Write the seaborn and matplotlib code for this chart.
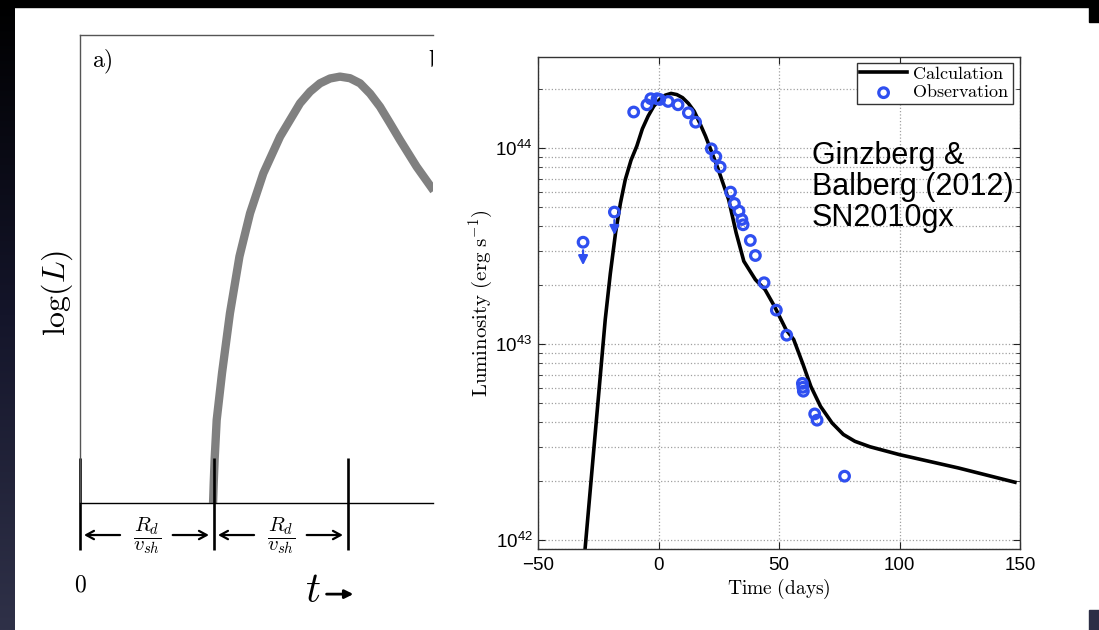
import numpy as np
import matplotlib
matplotlib.use("Agg")
import matplotlib.pyplot as plt
import seaborn as sns
from matplotlib.patches import Rectangle
from matplotlib.transforms import offset_copy
from matplotlib.ticker import LogLocator, FuncFormatter, NullFormatter, FixedLocator
from matplotlib.colors import LinearSegmentedColormap

# ---------------- data: right panel (SN2010gx, Ginzberg & Balberg 2012) ----------------
calc_days = [-31.0, -22.1, -20.0, -17.8, -15.8, -13.8, -11.4, -9.0, -6.7, -4.3, -2.0, 0.5,
             2.8, 5.2, 7.6, 10.0, 12.4, 14.8, 17.1, 19.5, 24.3,
             29.1, 32.2, 35.4, 40.2, 44.2, 48.1, 52.9, 56.1, 60.0, 63.2, 67.2, 72.0,
             76.7, 81.5, 87.8, 100.0, 124.4, 147.9]
calc_loglum = [41.88, 43.126, 43.36, 43.571, 43.72, 43.84, 43.94, 44.012, 44.10, 44.165,
               44.215, 44.25, 44.272, 44.281, 44.275, 44.259, 44.23, 44.19, 44.13,
               44.063, 43.91, 43.739, 43.57, 43.424, 43.33, 43.279, 43.194, 43.075, 43.024,
               42.896, 42.785, 42.683, 42.598, 42.539, 42.504, 42.476, 42.436, 42.368, 42.295]

obs_days = [-31.3, -18.3, -10.3, -4.8, -3.2, -0.6, 0.5, 4.0, 8.1, 12.4, 15.4, 21.9, 23.8,
            25.6, 29.9, 31.5, 33.4, 34.6, 35.1, 38.1, 40.2, 43.8, 48.9, 53.2, 59.7, 59.9,
            60.1, 64.8, 65.8, 77.2]
obs_loglum = [43.521, 43.675, 44.186, 44.223, 44.254, 44.254, 44.25, 44.24, 44.223, 44.182,
              44.134, 43.998, 43.958, 43.905, 43.777, 43.719, 43.68, 43.637, 43.61, 43.53,
              43.453, 43.314, 43.174, 43.046, 42.80, 42.78, 42.76, 42.644, 42.612, 42.326]
obs_upper_limit = [True, True] + [False] * 28

x_ticks = [-50, 0, 50, 100, 150]
x_tick_labels = ["\u221250", "0", "50", "100", "150"]

# ---------------- data: left panel (schematic light curve) ----------------
sch_t = [0.993, 0.998, 1.005, 1.02, 1.06, 1.119, 1.19, 1.269, 1.368, 1.493, 1.642, 1.717,
         1.791, 1.866, 1.94, 2.015, 2.09, 2.165, 2.239, 2.31, 2.388, 2.512, 2.64]
sch_logL = [0.0, 0.15, 0.33, 0.619, 0.97, 1.416, 1.84, 2.162, 2.46, 2.734, 2.983, 3.07,
            3.132, 3.168, 3.182, 3.17, 3.132, 3.055, 2.957, 2.84, 2.709, 2.51, 2.33]
sch_marks = [0, 1, 2]

BLUE = "#2f4ff0"
SANS = "Liberation Sans"
W, H = 1099, 630

plt.rcParams["font.family"] = SANS
plt.rcParams["mathtext.fontset"] = "cm"

fig = plt.figure(figsize=(W / 100, H / 100), dpi=100)
fig.patch.set_facecolor("white")


def fx(px):
    return px / W


def fy(py):
    return 1 - py / H


# ---------------- slide background decoration ----------------
bg = fig.add_axes([0, 0, 1, 1], zorder=-10)
grad = np.linspace(0, 1, 256)[:, None]
cmap = LinearSegmentedColormap.from_list("slide", ["#000000", "#14152a", "#2f3148"])
bg.imshow(grad, extent=(0, 15, H, 0), cmap=cmap, aspect="auto")
bg.add_patch(Rectangle((0, 0), W, 7, color="black"))
bg.add_patch(Rectangle((1089, 0), 10, 22, color="black"))
bg.add_patch(Rectangle((1089, 610), 10, 20, color="#2c2e45"))
bg.set_xlim(0, W)
bg.set_ylim(H, 0)
bg.axis("off")

# ---------------- left panel: schematic ----------------
ax0 = fig.add_axes([fx(80), fy(503), fx(433) - fx(80), (503 - 35) / H])
ax0.set_xlim(0, 353 / 134)
ax0.set_ylim(0, 468 / 134)
sns.lineplot(x=sch_t, y=sch_logL, ax=ax0, color="#808080", lw=6, sort=False,
             estimator=None, solid_capstyle="butt")
for s in ["left", "top"]:
    ax0.spines[s].set_color("#555555")
    ax0.spines[s].set_linewidth(1.0)
ax0.spines["bottom"].set_color("black")
ax0.spines["bottom"].set_linewidth(1.0)
ax0.spines["right"].set_visible(False)
ax0.set_xticks([])
ax0.set_yticks([])
ax0.set_xlabel("")
ax0.set_ylabel("")

ax0.vlines(sch_marks, -0.351, 0.336, colors="black", lw=1.9, clip_on=False)
arr = dict(arrowstyle="->,head_length=0.55,head_width=0.3", lw=1.6, color="black",
           shrinkA=0, shrinkB=0)
for m in sch_marks[:2]:
    ax0.annotate("", xy=(m + 0.03, -0.239), xytext=(m + 0.299, -0.239),
                 arrowprops=arr, annotation_clip=False)
    ax0.annotate("", xy=(m + 0.962, -0.239), xytext=(m + 0.692, -0.239),
                 arrowprops=arr, annotation_clip=False)
    ax0.text(m + 0.5, -0.245, r"$\dfrac{R_d}{v_{sh}}$", ha="center", va="center",
             fontsize=15, clip_on=False)

ax0.text(0, -0.612, r"$\mathrm{0}$", ha="center", va="center", fontsize=17, clip_on=False)
ax0.text(1.739, -0.66, r"$t$", ha="center", va="center", fontsize=30, clip_on=False)
ax0.annotate("", xy=(2.04, -0.68), xytext=(1.84, -0.68),
             arrowprops=dict(arrowstyle="-|>,head_length=0.5,head_width=0.25", lw=2,
                             color="black", shrinkA=0, shrinkB=0),
             annotation_clip=False)
ax0.text(0.09, 3.29, r"$\mathrm{a)}$", ha="left", va="center", fontsize=17)
ax0.text(2.60, 3.29, r"$\mathrm{b)}$", ha="left", va="center", fontsize=17, clip_on=True)

fig.text(fx(57), fy(293), r"$\log(L)$", rotation=90, ha="center", va="center", fontsize=23)

# ---------------- right panel: SN2010gx light curve ----------------
ax1 = fig.add_axes([fx(538), fy(549), fx(1020) - fx(538), (549 - 57) / H])
calc_L = [10 ** v for v in calc_loglum]
obs_L = [10 ** v for v in obs_loglum]

ax1.set_yscale("log")
sns.lineplot(x=calc_days, y=calc_L, ax=ax1, color="black", lw=2.6, sort=False,
             estimator=None, label="Calculation", zorder=2)
sns.scatterplot(x=obs_days, y=obs_L, ax=ax1, marker="o", s=48, facecolors="none",
                edgecolor=BLUE, linewidth=2.3, label="Observation", zorder=3)

tail_tr = offset_copy(ax1.transData, fig=fig, y=-8, units="dots")
tip_tr = offset_copy(ax1.transData, fig=fig, y=-23, units="dots")
for d, L, up in zip(obs_days, obs_L, obs_upper_limit):
    if up:
        ax1.annotate("", xy=(d, L), xycoords=tip_tr, xytext=(d, L), textcoords=tail_tr,
                     arrowprops=dict(arrowstyle="-|>,head_length=0.55,head_width=0.28",
                                     lw=1.6, color=BLUE, shrinkA=0, shrinkB=0))

ax1.set_xlim(-50, 150)
ax1.set_ylim(10 ** 41.954, 10 ** 44.467)
ax1.xaxis.set_major_locator(FixedLocator(x_ticks))
ax1.set_xticklabels(x_tick_labels, family=SANS)
ax1.yaxis.set_major_locator(LogLocator(base=10, numticks=10))
ax1.yaxis.set_minor_locator(LogLocator(base=10, subs=np.arange(2, 10), numticks=20))
ax1.yaxis.set_major_formatter(
    FuncFormatter(lambda v, p: r"$\mathregular{10^{%d}}$" % int(round(np.log10(v)))))
ax1.yaxis.set_minor_formatter(NullFormatter())
ax1.tick_params(axis="both", which="both", direction="in", top=True, right=True,
                colors="#222222", labelcolor="black")
ax1.tick_params(axis="both", which="major", length=5, width=0.8, pad=6)
ax1.tick_params(axis="y", which="minor", length=3, width=0.6)
ax1.tick_params(axis="x", labelsize=13.5)
ax1.tick_params(axis="y", labelsize=13.5, pad=4)
ax1.grid(True, which="major", axis="both", ls=":", color="#a0a0a0", lw=0.9)
ax1.grid(True, which="minor", axis="y", ls=":", color="#a0a0a0", lw=0.9)
ax1.set_axisbelow(True)
for s in ax1.spines.values():
    s.set_color("#333333")
    s.set_linewidth(1.0)

ax1.set_xlabel(r"$\mathrm{Time\ (days)}$", fontsize=14, labelpad=2)
ax1.set_ylabel(r"$\mathrm{Luminosity\ (erg\ s^{-1})}$", fontsize=15, labelpad=0)

h, l = ax1.get_legend_handles_labels()
leg = ax1.legend(h, [r"$\mathrm{Calculation}$", r"$\mathrm{Observation}$"],
                 loc="upper right", bbox_to_anchor=(0.985, 0.988), fontsize=13,
                 frameon=True, fancybox=False, edgecolor="#333333", framealpha=1,
                 borderpad=0.15, labelspacing=0.1, handletextpad=0.3, handlelength=2.6,
                 borderaxespad=0)
leg.get_frame().set_linewidth(1.0)

fig.text(fx(812), fy(141), "Ginzberg &\nBalberg (2012)\nSN2010gx", ha="left", va="top",
         family=SANS, fontsize=22, linespacing=1.05, color="black")

fig.savefig("out.png", dpi=100, facecolor=fig.get_facecolor())
